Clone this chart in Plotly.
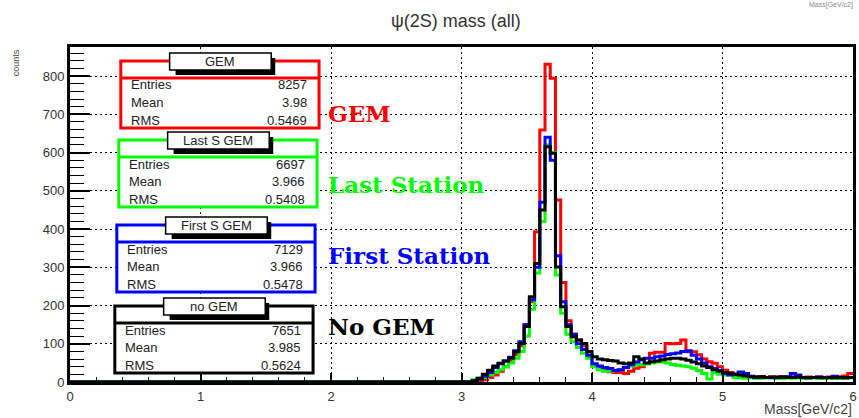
import numpy as np
import plotly.graph_objects as go

# ---- histogram binning -------------------------------------------------
bin_width = 0.04
mass_min, mass_max = 0.0, 6.0
first_filled = 3.0          # every bin below this mass is empty

# counts per 0.04 GeV bin, from 3.00 to 6.00 GeV/c2
gem = [0, 0, 0, 2, 6, 12, 18, 28, 40, 55,
       72, 95, 150, 210, 393, 659, 831, 794, 476, 260,
       160, 125, 110, 95, 70, 44, 40, 30, 27, 25,
       25, 22, 28, 36, 40, 48, 75, 78, 78, 101,
       100, 101, 110, 79, 79, 71, 60, 53, 49, 40,
       31, 25, 20, 16, 15, 14, 13, 14, 12, 13,
       14, 13, 13, 20, 14, 12, 13, 12, 13, 12,
       13, 12, 14, 16, 22]
last_station = [0, 0, 6, 10, 12, 18, 25, 32, 40, 50,
                62, 80, 120, 190, 285, 420, 620, 600, 280, 180,
                125, 105, 90, 75, 62, 40, 32, 28, 28, 30,
                33, 38, 42, 45, 45, 48, 50, 52, 52, 50,
                46, 44, 42, 40, 36, 30, 22, 8, 24, 20,
                18, 20, 12, 11, 10, 12, 9, 10, 11, 12,
                10, 9, 11, 10, 12, 9, 10, 11, 9, 10,
                11, 10, 9, 10, 11]
first_station = [0, 0, 2, 8, 15, 25, 38, 48, 55, 65,
                 82, 105, 150, 215, 300, 470, 640, 580, 330, 210,
                 150, 125, 100, 85, 70, 48, 42, 38, 35, 30,
                 32, 38, 45, 52, 58, 62, 62, 66, 68, 72,
                 74, 76, 80, 82, 70, 60, 50, 40, 35, 30,
                 22, 18, 20, 26, 22, 15, 12, 13, 12, 11,
                 12, 13, 14, 22, 18, 12, 11, 12, 13, 12,
                 11, 15, 12, 11, 12]
no_gem = [0, 0, 3, 10, 20, 31, 42, 49, 55, 62,
          79, 101, 145, 223, 310, 450, 615, 598, 301, 197,
          145, 118, 110, 101, 80, 66, 60, 58, 56, 55,
          50, 48, 50, 66, 60, 50, 53, 55, 58, 60,
          62, 62, 60, 57, 52, 48, 42, 38, 32, 28,
          25, 22, 20, 18, 16, 14, 13, 14, 12, 13,
          12, 13, 12, 12, 13, 12, 11, 12, 12, 11,
          12, 11, 12, 11, 12]

# ---- statistics boxes / labels ----------------------------------------
stat_titles = ["GEM", "Last S GEM", "First S GEM", "no GEM"]
stat_entries = ["8257", "6697", "7129", "7651"]
stat_mean = ["3.98", "3.966", "3.966", "3.985"]
stat_rms = ["0.5469", "0.5408", "0.5478", "0.5624"]
series_labels = ["GEM", "Last Station", "First Station", "No GEM"]
series_colors = ["#ff0000", "#00ff00", "#0000ff", "#000000"]
series_counts = [gem, last_station, first_station, no_gem]

x_ticks = [0, 1, 2, 3, 4, 5, 6]
y_ticks = [0, 100, 200, 300, 400, 500, 600, 700, 800]

# ---- canvas geometry ---------------------------------------------------
W, H = 859, 418
ML, MR, MT, MB = 70, 3, 47, 36
PW, PH = W - ML - MR, H - MT - MB
SANS = "Liberation Sans, Arial, sans-serif"


def px(x):
    """pixel column -> paper x"""
    return (x - ML) / PW


def py(y):
    """pixel row (from top) -> paper y"""
    return (H - MB - y) / PH


edges = np.round(np.linspace(mass_min, mass_max,
                             int(round((mass_max - mass_min) / bin_width)) + 1), 6)
n_empty = int(round((first_filled - mass_min) / bin_width))

fig = go.Figure()
for counts, color, name in zip(series_counts, series_colors, stat_titles):
    full = np.concatenate([np.zeros(n_empty), np.asarray(counts, float)])
    fig.add_trace(go.Scatter(
        x=edges, y=np.append(full, full[-1]), mode="lines",
        line=dict(shape="hv", color=color, width=3),
        name=name, showlegend=False, hoverinfo="skip"))

tick_font = dict(family=SANS, size=13, color="#333")
grid_dash = "2px,3px"

fig.update_xaxes(
    range=[mass_min, mass_max], tickvals=x_ticks, ticktext=[str(v) for v in x_ticks],
    showline=True, linewidth=3, linecolor="black", mirror=True,
    ticks="inside", ticklen=9, tickwidth=1.5, tickcolor="black",
    showgrid=True, gridcolor="black", gridwidth=1.3, griddash=grid_dash,
    zeroline=False, tickfont=tick_font,
    minor=dict(dtick=0.2, tick0=0, ticks="inside", ticklen=5, tickwidth=1,
               tickcolor="black", showgrid=False))
fig.update_yaxes(
    range=[0, 876], tickvals=y_ticks, ticktext=[str(v) for v in y_ticks],
    showline=True, linewidth=3, linecolor="black", mirror=True,
    ticks="inside", ticklen=20, tickwidth=1.5, tickcolor="black",
    showgrid=True, gridcolor="black", gridwidth=1.3, griddash=grid_dash,
    zeroline=False, tickfont=tick_font,
    minor=dict(dtick=20, tick0=0, ticks="inside", ticklen=14, tickwidth=1,
               tickcolor="black", showgrid=False))

shapes = []
annotations = []
stat_font = dict(family=SANS, size=13, color="#222")

box_left = [121, 119, 117, 115]
box_top = [61, 140, 225, 306]
box_w, box_h = 199, 67
for i in range(4):
    c = series_colors[i]
    x0, y0 = box_left[i], box_top[i]
    x1, y1 = x0 + box_w, y0 + box_h
    shapes.append(dict(type="rect", xref="paper", yref="paper", layer="above",
                       x0=px(x0), x1=px(x1), y0=py(y1), y1=py(y0),
                       line=dict(color=c, width=3), fillcolor="white"))
    shapes.append(dict(type="line", xref="paper", yref="paper", layer="above",
                       x0=px(x0), x1=px(x1), y0=py(y0 + 17), y1=py(y0 + 17),
                       line=dict(color=c, width=3)))
    # title tab with drop shadow
    tx0, tx1, ty0, ty1 = x0 + 49, x0 + 151, y0 - 8, y0 + 9
    shapes.append(dict(type="rect", xref="paper", yref="paper", layer="above",
                       x0=px(tx0 + 6), x1=px(tx1 + 4), y0=py(ty1 + 5), y1=py(ty0 + 5),
                       line=dict(width=0), fillcolor="black"))
    shapes.append(dict(type="rect", xref="paper", yref="paper", layer="above",
                       x0=px(tx0), x1=px(tx1), y0=py(ty1), y1=py(ty0),
                       line=dict(color="black", width=1.5), fillcolor="white"))
    annotations.append(dict(xref="paper", yref="paper", x=px((tx0 + tx1) / 2),
                            y=py((ty0 + ty1) / 2), text=stat_titles[i],
                            showarrow=False, font=stat_font,
                            xanchor="center", yanchor="middle"))
    rows = [("Entries", stat_entries[i]), ("Mean", stat_mean[i]), ("RMS", stat_rms[i])]
    for k, (lab, val) in enumerate(rows):
        yy = py(y0 + 24 + 17.5 * k)
        annotations.append(dict(xref="paper", yref="paper", x=px(x0 + 8), y=yy,
                                text=lab, showarrow=False, font=stat_font,
                                xanchor="left", yanchor="middle"))
        annotations.append(dict(xref="paper", yref="paper", x=px(x1 - 10), y=yy,
                                text=val, showarrow=False, font=stat_font,
                                xanchor="right", yanchor="middle"))

# coloured series labels
label_rows = [113, 184, 255, 326]
for i in range(4):
    annotations.append(dict(xref="paper", yref="paper", x=px(327), y=py(label_rows[i]),
                            text="<b>" + series_labels[i] + "</b>", showarrow=False,
                            font=dict(family="DejaVu Serif, serif", size=23,
                                      color=series_colors[i]),
                            xanchor="left", yanchor="middle"))

annotations += [
    dict(xref="paper", yref="paper", x=px(457), y=py(21), text="ψ(2S) mass (all)",
         showarrow=False, font=dict(family=SANS, size=18, color="#333"),
         xanchor="center", yanchor="middle"),
    dict(xref="paper", yref="paper", x=px(16), y=py(63), text="counts", textangle=-90,
         showarrow=False, font=dict(family=SANS, size=9, color="#444"),
         xanchor="center", yanchor="middle"),
    dict(xref="paper", yref="paper", x=px(857), y=py(409), text="Mass[GeV/c2]",
         showarrow=False, font=dict(family=SANS, size=14, color="#444"),
         xanchor="right", yanchor="middle"),
    dict(xref="paper", yref="paper", x=px(857), y=py(0), text="Mass[GeV/c2]",
         showarrow=False, font=dict(family=SANS, size=7, color="#888"),
         xanchor="right", yanchor="top", borderpad=0),
]

fig.update_layout(
    width=W, height=H, margin=dict(l=ML, r=MR, t=MT, b=MB),
    paper_bgcolor="white", plot_bgcolor="white",
    shapes=shapes, annotations=annotations, showlegend=False)

fig.write_html("out.html")
